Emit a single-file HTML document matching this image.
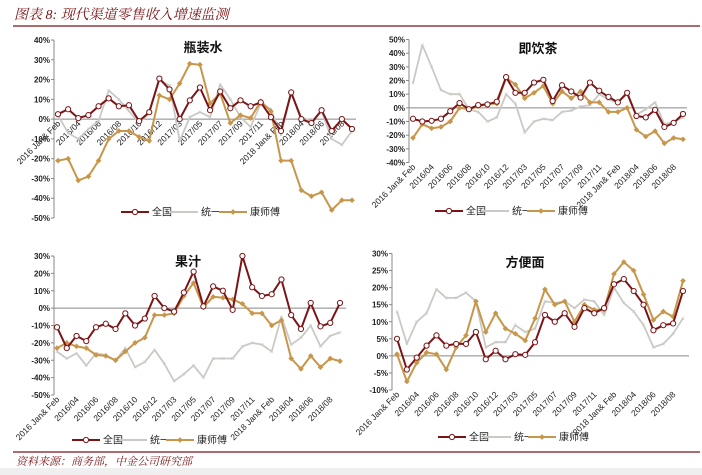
<!DOCTYPE html>
<html><head><meta charset="utf-8">
<style>
body{margin:0;background:#fff;width:702px;height:475px;overflow:hidden;font-family:"Liberation Sans","Noto Sans CJK SC",sans-serif;}
svg{display:block}
</style></head>
<body>
<svg id="c" width="702" height="475">
  <text x="14" y="19" font-size="14" font-style="italic" fill="#7b1416" font-family="Liberation Serif, Noto Serif CJK SC, serif">图表 8:  现代渠道零售收入增速监测</text>
  <line x1="13" y1="26" x2="700" y2="26" stroke="#7b1416" stroke-width="1.2"/>
  <line x1="13" y1="452" x2="700" y2="452" stroke="#7b1416" stroke-width="1.2"/>
  <text x="16" y="465" font-size="11" font-style="italic" fill="#7b1416" font-family="Liberation Serif, Noto Serif CJK SC, serif">资料来源：商务部，中金公司研究部</text>
  <rect x="0" y="468" width="702" height="7" fill="#efefef"/>
</svg>
<script>
const categories=["2016 Jan& Feb","2016/03","2016/04","2016/05","2016/06","2016/07","2016/08","2016/09","2016/10","2016/11","2016/12","2017 Jan& Feb","2017/03","2017/04","2017/05","2017/06","2017/07","2017/08","2017/09","2017/10","2017/11","2017/12","2018 Jan& Feb","2018/03","2018/04","2018/05","2018/06","2018/07","2018/08","2018/09"];
const seriesNames=["全国","统一","康师傅"];
const waterNational=[2.5,5,0.5,2,6.5,10.5,6.5,7,-1,3.5,20.5,15,0,9.5,16,4.5,14,5.5,9.5,6.5,8.5,1,-6,13.5,0,-2,4.5,-6,0,-5];
const waterTongyi=[2,-7,-10,-5,-1,14.5,10,4,-2,3,20,17,-11,1,3.5,1,17.5,10,1,-4,8,5,-8,13,1,-1,4,-10,-13,-6];
const waterKsf=[-21,-20,-31,-29,-21,-10,-6,-6,-9,-11,12,10,18,28,27.5,8,13,-2,2,0.5,9,4,-21,-21,-36,-39,-37,-46,-41,-41];
const teaNational=[-8,-10,-9.5,-8,-2.5,3.5,-1,2,2.5,4.5,22.5,11,11,18.5,20.5,5,16.5,12,7.5,18.5,12.5,8,4,11,-6,-7,-1.5,-14,-11,-4.5];
const teaTongyi=[18,46,30,13,10,10,-1,-3,-10,-7,10,3,-18,-10,-8,-9,-3,-2,1,2,10,6,4,10,-5,-1,4,-12,-10,-7];
const teaKsf=[-22,-12,-15,-14,-10,0,-1,1,3,3,22,17,7,11,16,3,12,7,12,4,4,-3,-3,0,-16,-21,-17,-26,-22,-23];
const juiceNational=[-11,-23,-16,-19,-11,-9,-12,-3,-10,-6,7,0,-2,9,21,1,12.5,10,-1,30,12,7,8,16.5,-4,-12,3,-10.5,-8.5,3];
const juiceTongyi=[-25,-29,-26,-33,-26,-27,-30,-23,-34,-31,-24,-32,-42,-38,-33,-40,-29,-29,-29,-22,-20,-21,-25,-5,-21,-17,-10,-22,-16,-14];
const juiceKsf=[-23,-20,-22,-23,-27,-27.5,-30,-25,-20,-17,-4,-4,-3,7,14.5,0.5,6.5,6,5,2.5,-3,-3,-10,-7,-29,-35,-27.5,-34,-29,-30.5];
const noodleNational=[5,-4,-0.5,3,6,3,3.5,3.5,7,-1,1.5,-1,0.5,0.3,4,12,10,12.5,8.5,14,12.5,14,21,22.5,19,15,7.5,9,9.5,19];
const noodleTongyi=[13,3.5,10,12.5,19.5,17,17,18.5,16,2.5,4,4,9,7,8,16,15.5,16,14,16.5,16,12,20,15.5,13,9,2.5,3.5,6.5,11];
const noodleKsf=[0.5,-7.5,-2,1,0.5,-4,2.5,6,16,7,12.5,8,6.5,4.5,11,19.5,15,16,10,15,13.5,13.5,24,27.5,25,18,10.5,13,11.5,22];
const waterTicks=[40,30,20,10,0,-10,-20,-30,-40,-50];
const teaTicks=[50,40,30,20,10,0,-10,-20,-30,-40];
const juiceTicks=[30,20,10,0,-10,-20,-30,-40,-50];
const noodleTicks=[30,25,20,15,10,5,0,-5,-10];

const NS="http://www.w3.org/2000/svg";
const svg=document.getElementById('c');
const COLORS=["#7b1416","#c9c9c5","#c8964a"];
function mk(tag,attrs,parent){const e=document.createElementNS(NS,tag);for(const k in attrs)e.setAttribute(k,attrs[k]);(parent||svg).appendChild(e);return e;}

function panel(o){
  const g=mk('g',{});
  
  
  const max=o.ticks[0],min=o.ticks[o.ticks.length-1];
  const y=v=>o.yTop+(max-v)/(max-min)*(o.yBot-o.yTop);
  const n=categories.length;
  const x=i=>o.x0+i*(o.x1-o.x0)/(n-1);
  mk('line',{x1:o.axX,y1:o.yTop,x2:o.axX,y2:o.yBot,stroke:'#888','stroke-width':1},g);
  o.ticks.forEach(t=>{
    const tl=mk('text',{x:o.axX-4,y:y(t)+3,'font-size':8,'font-weight':'bold','text-anchor':'end',fill:'#222'},g);
    tl.textContent=t+'%';
    
    
    mk('line',{x1:o.axX-3,y1:y(t),x2:o.axX,y2:y(t),stroke:'#888'},g);
  });
  mk('line',{x1:o.axX,y1:y(0),x2:o.axEnd,y2:y(0),stroke:'#888','stroke-width':1},g);
  const ly=o.labelAtZero?y(0)+5:o.yBot+5;
  categories.forEach((c,i)=>{
    if(i%2)return;
    const t=mk('text',{x:x(i)+3,y:ly,'font-size':8.5,'text-anchor':'end',fill:'#222',transform:`rotate(-45 ${x(i)+3} ${ly})`},g);
    t.textContent=c;
    
    
  });
  const tt=mk('text',{x:o.tx,y:o.ty,'font-size':13,'font-weight':'bold','text-anchor':'middle',fill:'#111'},g);
  tt.textContent=o.title;
  
  
  const order=[1,2,0];
  order.forEach(s=>{
    const vals=o.series[s];
    const pts=vals.map((v,i)=>x(i).toFixed(1)+','+y(v).toFixed(1)).join(' ');
    const pl=mk('polyline',{points:pts,fill:'none',stroke:COLORS[s],'stroke-width':s==1?1.8:2,'stroke-linejoin':'round'},g);
    
    
    vals.forEach((v,i)=>{
      let m;
      if(s==0) m=mk('circle',{cx:x(i),cy:y(v),r:2.6,fill:'#fff',stroke:COLORS[0],'stroke-width':1},g);
      else if(s==2) m=mk('rect',{x:x(i)-2,y:y(v)-2,width:4,height:4,fill:COLORS[2],transform:`rotate(45 ${x(i)} ${y(v)})`},g);
      else m=mk('text',{x:x(i),y:y(v)+2.5,'font-size':7,'text-anchor':'middle',fill:COLORS[1]},g);
      if(s==1)m.textContent='×';
      
      
    });
  });
  // legend
  const L=o.legend;
  seriesNames.forEach((nm,s)=>{
    const lx=L.x+s*L.gap;
    const lg=mk('g',{},g);
    
    
    mk('line',{x1:lx,y1:L.y,x2:lx+28,y2:L.y,stroke:COLORS[s],'stroke-width':2},lg);
    if(s==0)mk('circle',{cx:lx+14,cy:L.y,r:2.6,fill:'#fff',stroke:COLORS[0]},lg);
    if(s==2)mk('rect',{x:lx+12,y:L.y-2,width:4,height:4,fill:COLORS[2],transform:`rotate(45 ${lx+14} ${L.y})`},lg);
    const t=mk('text',{x:lx+31,y:L.y+3.5,'font-size':10,fill:'#222'},lg);
    t.textContent=nm;
  });
}
panel({name:'bottled-water',title:'瓶装水',tx:203,ty:52,ticks:waterTicks,yTop:40,yBot:218,axX:54,axEnd:356,x0:58,x1:352,labelAtZero:true,
  series:[waterNational,waterTongyi,waterKsf],legend:{x:121,y:212,gap:49}});
panel({name:'rtd-tea',title:'即饮茶',tx:538,ty:53,ticks:teaTicks,yTop:39.5,yBot:162.5,axX:409,axEnd:687,x0:413,x1:683,labelAtZero:false,
  series:[teaNational,teaTongyi,teaKsf],legend:{x:435,y:211,gap:46}});
panel({name:'juice',title:'果汁',tx:188,ty:266,ticks:juiceTicks,yTop:256,yBot:395,axX:54,axEnd:346,x0:57,x1:340,labelAtZero:false,
  series:[juiceNational,juiceTongyi,juiceKsf],legend:{x:72,y:440,gap:47}});
panel({name:'instant-noodle',title:'方便面',tx:525,ty:267,ticks:noodleTicks,yTop:253.5,yBot:390,axX:392,axEnd:689,x0:397,x1:683,labelAtZero:false,
  series:[noodleNational,noodleTongyi,noodleKsf],legend:{x:438,y:437,gap:45}});
</script>
</body></html>
